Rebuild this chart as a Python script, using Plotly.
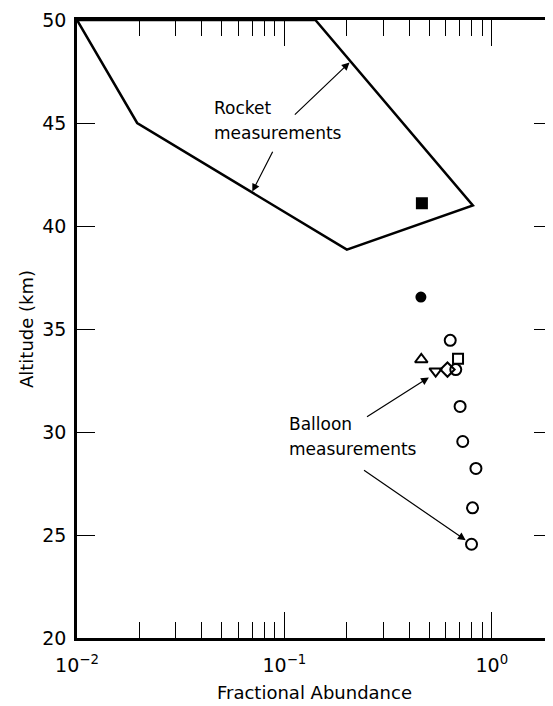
import math
import plotly.graph_objects as go

# ---- data ----
rocket_x = [0.01, 0.0195, 0.2, 0.81, 0.141, 0.01]
rocket_y = [50, 45, 38.85, 41.0, 50, 50]

filled_square_x = [0.46]
filled_square_y = [41.1]
filled_circle_x = [0.455]
filled_circle_y = [36.55]

open_circle_x = [0.63, 0.67, 0.703, 0.724, 0.838, 0.807, 0.798]
open_circle_y = [34.45, 33.03, 31.24, 29.54, 28.23, 26.32, 24.55]
tri_up_x = [0.457]
tri_up_y = [33.52]
tri_down_x = [0.536]
tri_down_y = [32.95]
diamond_x = [0.611]
diamond_y = [33.03]
open_square_x = [0.687]
open_square_y = [33.55]

major_ticks = [0.01, 0.1, 1]
major_text = ["10<sup>−2</sup>", "10<sup>−1</sup>", "10<sup>0</sup>"]
minor_ticks = [m * d for d in (0.01, 0.1) for m in range(2, 10)]
y_ticks = [20, 25, 30, 35, 40, 45, 50]

FONT = "DejaVu Sans"
fig = go.Figure()

fig.add_trace(go.Scatter(x=rocket_x, y=rocket_y, mode="lines",
                         line=dict(color="black", width=2.5), cliponaxis=False))

def add_markers(x, y, symbol, size, lw=2):
    fig.add_trace(go.Scatter(x=x, y=y, mode="markers",
                             marker=dict(symbol=symbol, size=size, color="black",
                                         line=dict(color="black", width=lw))))

add_markers(filled_square_x, filled_square_y, "square", 10)
add_markers(filled_circle_x, filled_circle_y, "circle", 9)
add_markers(open_circle_x, open_circle_y, "circle-open", 11)
add_markers(tri_up_x, tri_up_y, "triangle-up-open", 11)
add_markers(tri_down_x, tri_down_y, "triangle-down-open", 11)
add_markers(diamond_x, diamond_y, "diamond-open", 11)
add_markers(open_square_x, open_square_y, "square-open", 10)

def arrow(x0, y0, x1, y1):
    fig.add_annotation(x=math.log10(x1), y=y1, ax=math.log10(x0), ay=y0,
                       xref="x", yref="y", axref="x", ayref="y", text="",
                       showarrow=True, arrowhead=2, arrowsize=1.3,
                       arrowwidth=1.2, arrowcolor="black")

def label(x, y, t):
    fig.add_annotation(x=math.log10(x), y=y, xref="x", yref="y", text=t,
                       showarrow=False, xanchor="left", yanchor="middle",
                       font=dict(family=FONT, size=17, color="black"))

label(0.0449, 45.74, "Rocket")
label(0.0449, 44.51, "measurements")
label(0.1033, 30.39, "Balloon")
label(0.1033, 29.17, "measurements")

arrow(0.1104, 45.34, 0.206, 47.94)
arrow(0.0885, 43.68, 0.070, 41.67)
arrow(0.246, 30.69, 0.497, 32.65)
arrow(0.238, 28.19, 0.748, 24.75)

# page body has an 8px default margin: size the figure to fit inside the window
fig.update_layout(
    width=545, height=698,
    margin=dict(l=69, r=1, t=12, b=68),
    paper_bgcolor="white", plot_bgcolor="white",
    showlegend=False,
    font=dict(family=FONT, size=17, color="black"),
    xaxis=dict(type="log", range=[-2, 0.29], showgrid=False, zeroline=False,
               automargin=False, ticklabeloverflow="allow",
               showline=True, linecolor="black", linewidth=2.5, mirror="ticks",
               ticks="inside", ticklen=26, tickwidth=1.2, tickcolor="black",
               tickmode="array", tickvals=major_ticks, ticktext=major_text,
               tickfont=dict(family=FONT, size=19), ticklabelstandoff=8,
               minor=dict(ticks="inside", ticklen=16, tickwidth=1.2,
                          tickcolor="black", tickmode="array", tickvals=minor_ticks,
                          showgrid=False),
               title=dict(text="Fractional Abundance", font=dict(family=FONT, size=18),
                          standoff=12)),
    yaxis=dict(range=[20, 50], showgrid=False, zeroline=False,
               automargin=False, ticklabeloverflow="allow",
               showline=True, linecolor="black", linewidth=2.5, mirror="ticks",
               ticks="inside", ticklen=18, tickwidth=1.2, tickcolor="black",
               tickmode="array", tickvals=y_ticks,
               tickfont=dict(family=FONT, size=19), ticklabelstandoff=4,
               title=dict(text="Altitude (km)", font=dict(family=FONT, size=18),
                          standoff=4)),
)

fig.write_html("out.html")
